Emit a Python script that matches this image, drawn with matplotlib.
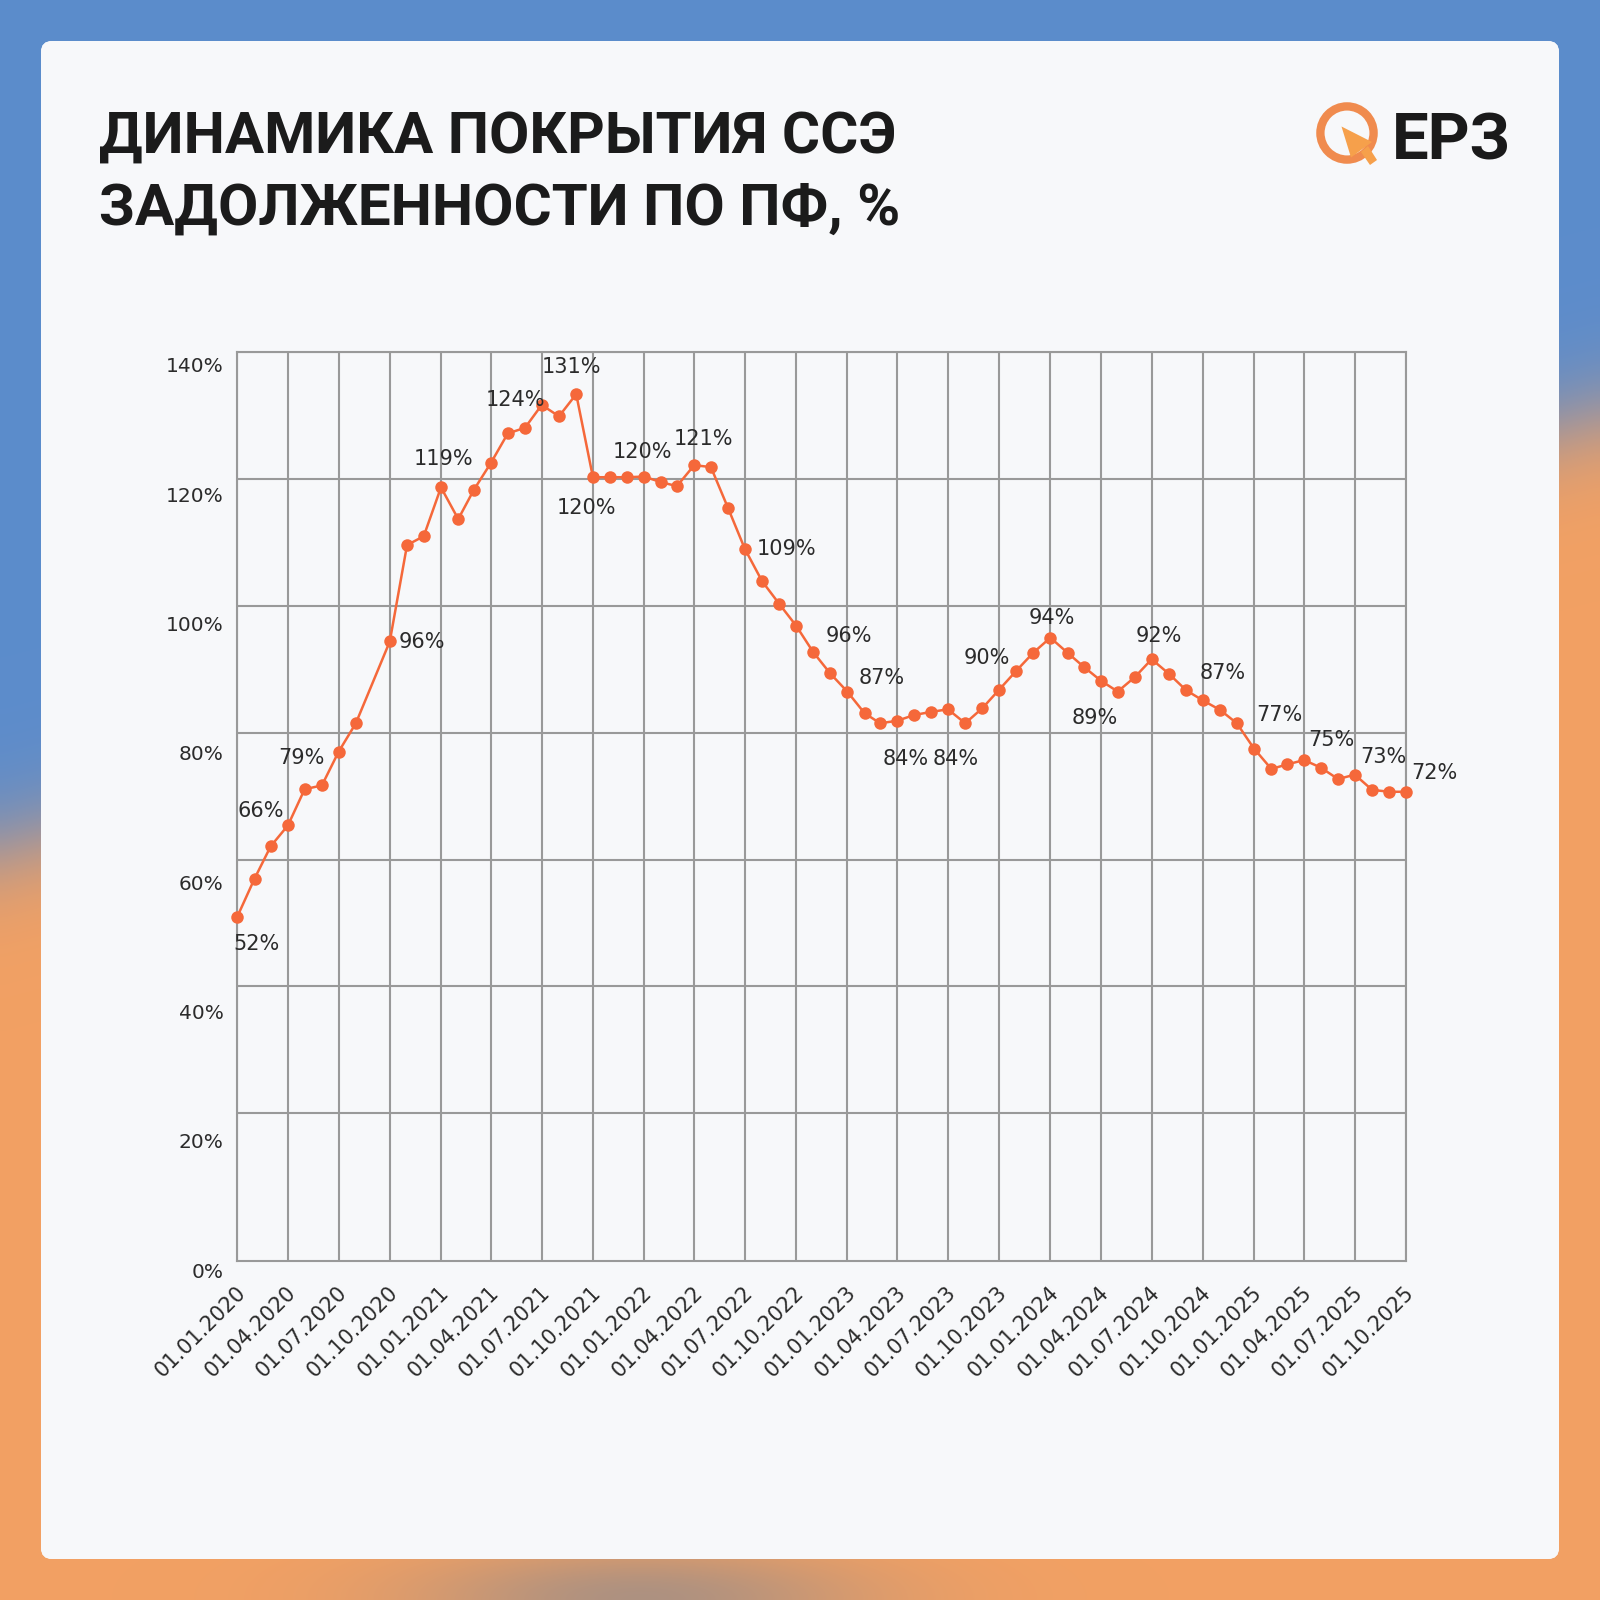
import numpy as np
import pandas as pd
import matplotlib
matplotlib.use("Agg")
import matplotlib.pyplot as plt
import matplotlib.dates as mdates
from matplotlib.patches import FancyBboxPatch, Circle, Polygon
from matplotlib.transforms import ScaledTranslation

# ---------------- data ----------------
dates = pd.date_range("2020-01-01", "2025-10-01", freq="MS")
dates = dates[dates != pd.Timestamp("2020-09-01")]  # no observation for Sep 2020

coverage = [51.0, 57.0, 62.1, 65.4, 71.1, 71.7, 77.0, 81.5, 94.4, 109.6,
            111.0, 118.7, 113.7, 118.3, 122.6, 127.2, 128.1, 131.7, 129.9, 133.4,
            120.3, 120.3, 120.3, 120.4, 119.5, 118.9, 122.2, 121.9, 115.4, 109.0,
            103.9, 100.3, 96.9, 92.7, 89.4, 86.5, 83.1, 81.5, 81.9, 82.8,
            83.3, 83.7, 81.5, 83.9, 86.8, 89.8, 92.6, 95.0, 92.6, 90.4,
            88.2, 86.5, 88.8, 91.6, 89.3, 86.7, 85.1, 83.6, 81.5, 77.5,
            74.3, 75.0, 75.7, 74.5, 72.7, 73.4, 71.0, 70.7, 70.7]

label_idx = [0, 3, 6, 8, 11, 16, 19, 20, 23, 27, 29, 32, 35, 38, 42, 45, 47,
             50, 53, 55, 59, 62, 65, 68]
label_txt = ["52%", "66%", "79%", "96%", "119%", "124%", "131%", "120%", "120%",
             "121%", "109%", "96%", "87%", "84%", "84%", "90%", "94%", "89%",
             "92%", "87%", "77%", "75%", "73%", "72%"]

y_ticks = [0, 20, 40, 60, 80, 100, 120, 140]
x_ticks = pd.date_range("2020-01-01", "2025-10-01", freq="QS")

title_lines = ["ДИНАМИКА ПОКРЫТИЯ ССЭ", "ЗАДОЛЖЕННОСТИ ПО ПФ, %"]
logo_text = "ЕРЗ"

# ---------------- style ----------------
# label offsets in pixels (dx right, dy down) relative to the marker
label_off = [(19, 27), (-27, -14), (-37, 6), (32, 1), (3, -28), (-10, -28),
             (-5, -27), (-6, 31), (-2, -25), (-7, -28), (42, 0), (53, 10),
             (34, -14), (8, 38), (-10, 36), (-30, -13), (1, -20), (-6, 37),
             (7, -23), (37, -17), (25, -34), (27, -20), (29, -18), (28, -19)]

LINE = "#f5683a"
GRID = "#999999"
TXT = "#2b2b2b"
S = 1600.0

fig = plt.figure(figsize=(16, 16), dpi=100)

# background (blurred photo look)
bg = fig.add_axes([0, 0, 1, 1], zorder=-10)
bg.set_xlim(0, 1); bg.set_ylim(0, 1); bg.axis("off")
yy, xx = np.mgrid[0:1:240j, 0:1:240j]
boundary = 0.53 - 0.27 * xx
w = 1 / (1 + np.exp(-(yy - boundary) / 0.018))
blue = np.array([0.36, 0.55, 0.80])
orange = np.array([0.95, 0.63, 0.39])
img = blue[None, None, :] * (1 - w[..., None]) + orange[None, None, :] * w[..., None]
g = np.exp(-((xx - 0.40) / 0.14) ** 2 - ((yy - 1.0) / 0.03) ** 2)
grey = np.array([0.50, 0.53, 0.58])
img = img * (1 - 0.6 * g[..., None]) + grey[None, None, :] * 0.6 * g[..., None]
bg.imshow(img, extent=[0, 1, 0, 1], origin="upper", aspect="auto",
          interpolation="bicubic")

card = FancyBboxPatch((41 / S, 41 / S), 1518 / S, 1518 / S,
                      boxstyle="round,pad=0,rounding_size=0.007",
                      facecolor="#f7f8fa", edgecolor="none")
bg.add_patch(card)
cy = np.linspace(0, 1, 200)[:, None]
top_c = np.array([0.963, 0.970, 0.982])
bot_c = np.array([0.985, 0.975, 0.965])
cimg = top_c[None, None, :] * (1 - cy[..., None]) + bot_c[None, None, :] * cy[..., None]
cimg = np.repeat(cimg, 4, axis=1)
im = bg.imshow(cimg, extent=[41 / S, 1559 / S, 41 / S, 1559 / S], origin="upper",
               aspect="auto", interpolation="bicubic")
im.set_clip_path(card)

# title
for k, base in enumerate([153, 224.5]):
    fig.text(99 / S, 1 - base / S, title_lines[k], fontsize=42,
             fontweight="bold", family="Roboto", color="#1b1b1b",
             va="baseline", ha="left")

# logo
def P(x, y):
    return (x / S, 1 - y / S)

bg.add_patch(Circle(P(1347, 133), 26.6 / S, fill=False, lw=6.0,
                    edgecolor="#f08b4e"))
bg.add_patch(Polygon([P(1341.5, 126.5), P(1372, 142), P(1351, 157.5)],
                     closed=True, facecolor="#f6a04b", edgecolor="none"))
bg.add_patch(Polygon([P(1361, 152), P(1368, 146), P(1377, 160), P(1370, 165)],
                     closed=True, facecolor="#f6a04b", edgecolor="none"))
fig.text(1392 / S, 1 - 160 / S, logo_text, fontsize=47, fontweight="bold",
         family="Roboto", color="#1a1a1a", va="baseline", ha="left")

# main chart axes
x0, x1 = 237.3, 1406.0
y_top, y_bot = 352.3, 1260.7
ax = fig.add_axes([x0 / S, 1 - y_bot / S, (x1 - x0) / S, (y_bot - y_top) / S])
ax.set_facecolor("none")
ax.set_xlim(pd.Timestamp("2020-01-01"), pd.Timestamp("2025-10-01"))
ax.set_ylim(-3.25, 140)
ax.set_yticks(y_ticks[1:])
ax.set_yticklabels([])
ax.set_xticks(x_ticks)
ax.xaxis.set_major_formatter(mdates.DateFormatter("%d.%m.%Y"))
ax.grid(True, color=GRID, lw=1.5)
for sp in ax.spines.values():
    sp.set_color(GRID)
    sp.set_linewidth(1.5)
ax.tick_params(axis="both", length=0)
ax.tick_params(axis="x", pad=22, labelsize=15, labelcolor=TXT)
shift = ScaledTranslation(5 / 100, 2 / 100, fig.dpi_scale_trans)
for lab in ax.get_xticklabels():
    lab.set_rotation(45)
    lab.set_ha("right")
    lab.set_va("center")
    lab.set_rotation_mode("anchor")
    lab.set_transform(lab.get_transform() + shift)

ax.plot(dates, coverage, color=LINE, lw=1.8, marker="o", ms=9,
        markeredgewidth=0, zorder=3, clip_on=False)

for i, t, (dx, dy) in zip(label_idx, label_txt, label_off):
    ax.annotate(t, (dates[i], coverage[i]), xytext=(dx, -dy),
                textcoords="offset pixels", ha="center", va="center",
                fontsize=15, color=TXT, zorder=4, annotation_clip=False)

# y tick labels (placed on their own scale, as in the original layout)
yl_top, yl_bot = 365.0, 1270.0
axl = fig.add_axes([x0 / S, 1 - yl_bot / S, (x1 - x0) / S, (yl_bot - yl_top) / S],
                   zorder=-1)
axl.set_facecolor("none")
axl.set_ylim(0, 140)
axl.set_yticks(y_ticks)
axl.set_yticklabels([f"{v}%" for v in y_ticks])
axl.tick_params(axis="y", length=0, pad=10, labelsize=14.5, labelcolor=TXT)
axl.set_xticks([])
for sp in axl.spines.values():
    sp.set_visible(False)

fig.savefig("out.png", dpi=100)
